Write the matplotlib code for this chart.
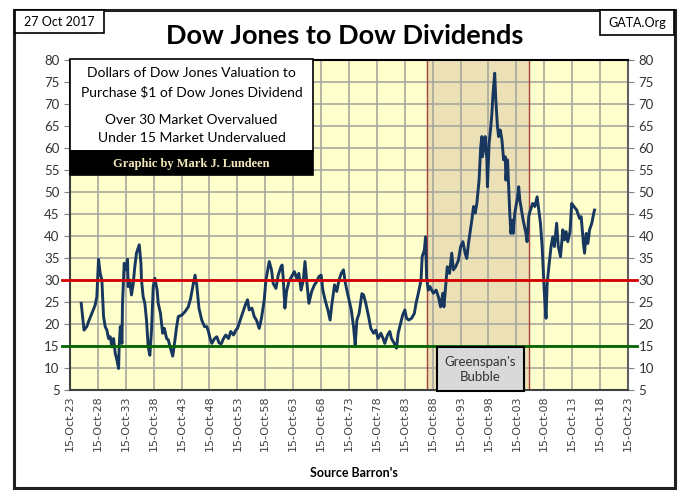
import numpy as np
from matplotlib import pyplot as plt
from matplotlib.patches import Rectangle

# year (decimal) and Dow Jones / Dow dividend ratio
years = [1925.8, 1926.3, 1926.8, 1927.1, 1927.7, 1928.3, 1928.6, 1928.9, 1929.2, 1929.5,
         1929.8, 1930.1, 1930.4, 1930.7, 1931.0, 1931.3, 1931.6, 1931.9, 1932.2, 1932.5,
         1932.6, 1932.8, 1933.1, 1933.2, 1933.5, 1933.8, 1934.1, 1934.2, 1934.5, 1934.8,
         1935.1, 1935.4, 1935.7, 1936.2, 1936.5, 1936.6, 1936.9, 1937.2, 1937.5, 1937.8,
         1938.1, 1938.4, 1938.7, 1939.0, 1939.4, 1939.6, 1940.0, 1940.4, 1940.7, 1941.1,
         1941.4, 1941.8, 1942.2, 1942.6, 1942.9, 1943.2, 1943.8, 1944.4, 1945.0, 1945.4,
         1945.9, 1946.2, 1946.5, 1946.9, 1947.4, 1947.9, 1948.3, 1948.6, 1948.9, 1949.2,
         1949.7, 1950.1, 1950.5, 1950.9, 1951.3, 1951.7, 1952.2, 1952.6, 1953.1, 1953.5,
         1953.8, 1954.3, 1954.7, 1955.2, 1955.6, 1955.9, 1956.4, 1956.8, 1957.2, 1957.7,
         1958.1, 1958.6, 1958.9, 1959.5, 1959.9, 1960.2, 1960.7, 1961.1, 1961.6, 1961.8,
         1962.0, 1962.3, 1962.6, 1963.0, 1963.5, 1964.0, 1964.4, 1964.8, 1965.2, 1965.6,
         1965.9, 1966.2, 1966.6, 1967.1, 1967.6, 1968.0, 1968.4, 1968.8, 1969.1, 1969.5,
         1970.0, 1970.4, 1970.7, 1971.2, 1971.6, 1972.0, 1972.4, 1972.8, 1973.1, 1973.4,
         1973.8, 1974.2, 1974.6, 1974.9, 1975.2, 1975.6, 1976.1, 1976.4, 1976.8, 1977.3,
         1977.7, 1978.2, 1978.6, 1979.0, 1979.5, 1979.9, 1980.2, 1980.7, 1981.1, 1981.4,
         1981.9, 1982.3, 1982.6, 1982.9, 1983.4, 1983.8, 1984.1, 1984.5, 1985.0, 1985.5,
         1985.8, 1986.2, 1986.7, 1986.9, 1987.3, 1987.5, 1987.7, 1988.0, 1988.3, 1988.9,
         1989.4, 1989.8, 1990.2, 1990.6, 1990.8, 1991.2, 1991.4, 1991.8, 1992.2, 1992.5,
         1992.9, 1993.4, 1993.8, 1994.2, 1994.6, 1994.9, 1995.2, 1995.5, 1995.8, 1996.1,
         1996.4, 1996.7, 1997.0, 1997.1, 1997.4, 1997.6, 1997.7, 1998.0, 1998.2, 1998.5,
         1998.6, 1998.9, 1999.2, 1999.4, 1999.6, 1999.9, 2000.1, 2000.4, 2000.6, 2000.9,
         2001.2, 2001.5, 2001.8, 2001.9, 2002.2, 2002.4, 2002.6, 2002.8, 2003.1, 2003.2,
         2003.5, 2004.0, 2004.2, 2004.4, 2004.7, 2005.0, 2005.5, 2005.7, 2006.0, 2006.2,
         2006.7, 2007.1, 2007.5, 2007.8, 2008.1, 2008.4, 2008.6, 2008.8, 2009.1, 2009.3,
         2009.6, 2010.0, 2010.3, 2010.6, 2011.0, 2011.3, 2011.7, 2012.1, 2012.4, 2012.7,
         2013.0, 2013.4, 2013.7, 2014.1, 2014.6, 2015.1, 2015.4, 2015.8, 2016.0, 2016.3,
         2016.6, 2016.9, 2017.3, 2017.7, 2017.8]
ratio = [24.7, 18.6, 19.4, 20.5, 22.4, 24.3, 26.2, 34.7, 31.5, 30.0,
         21.7, 19.4, 18.6, 16.7, 17.1, 14.8, 16.7, 13.3, 11.8, 9.9,
         14.8, 19.4, 15.6, 24.7, 33.8, 32.3, 34.7, 28.5, 30.0, 26.6,
         28.9, 33.0, 36.1, 38.0, 33.8, 30.0, 26.2, 24.7, 20.9, 14.8,
         12.9, 18.6, 28.5, 30.4, 27.7, 24.7, 22.4, 17.9, 19.0, 16.7,
         16.4, 14.5, 12.7, 16.4, 19.4, 21.7, 22.0, 22.8, 23.9, 25.8,
         29.2, 31.1, 28.9, 23.6, 20.9, 19.4, 19.4, 18.3, 16.7, 15.6,
         16.7, 17.1, 15.7, 15.5, 16.7, 17.5, 16.7, 18.3, 17.5, 18.6,
         19.0, 20.9, 22.4, 24.3, 25.5, 23.2, 23.6, 21.7, 20.9, 19.0,
         21.3, 25.5, 30.0, 34.2, 32.3, 29.2, 28.1, 31.1, 33.0, 33.4,
         30.4, 23.6, 27.4, 29.6, 30.8, 31.9, 30.4, 31.5, 27.7, 30.0,
         34.2, 30.0, 24.7, 27.4, 28.9, 29.6, 30.8, 31.1, 27.7, 25.5,
         23.2, 20.9, 24.3, 28.9, 27.4, 30.0, 31.5, 32.3, 29.6, 27.7,
         25.5, 23.2, 19.4, 15.2, 20.9, 22.4, 26.9, 26.6, 24.7, 21.7,
         19.0, 17.9, 18.6, 16.7, 17.9, 16.7, 15.6, 17.5, 18.3, 16.7,
         15.6, 14.5, 17.9, 19.4, 22.0, 23.2, 21.3, 20.9, 21.3, 22.4,
         24.7, 26.9, 30.0, 35.3, 36.8, 39.8, 30.4, 27.7, 28.5, 27.0,
         27.7, 26.2, 23.9, 27.0, 23.9, 30.0, 33.0, 31.5, 36.1, 32.3,
         33.0, 34.5, 37.6, 38.7, 36.1, 34.9, 38.3, 41.0, 43.6, 46.7,
         45.2, 47.4, 51.2, 52.7, 60.3, 62.6, 58.0, 60.3, 62.6, 57.3,
         51.2, 61.1, 64.8, 67.9, 72.4, 77.0, 70.9, 64.8, 62.6, 64.1,
         61.8, 57.3, 58.0, 52.7, 57.3, 51.2, 45.2, 40.6, 43.6, 40.6,
         45.2, 48.9, 51.2, 48.2, 45.9, 43.6, 40.6, 38.7, 44.4, 45.5,
         47.4, 46.7, 48.9, 45.9, 42.9, 37.6, 32.3, 27.0, 21.3, 29.2,
         33.0, 37.6, 39.8, 37.6, 42.9, 37.6, 35.3, 41.4, 39.1, 41.0,
         38.7, 41.0, 47.4, 46.7, 45.9, 44.0, 44.4, 38.3, 36.1, 40.6,
         38.3, 41.4, 42.9, 45.5, 45.9]

x_start = 1923 + 288 / 365.0     # 15 Oct 1923
tick_years = [1923 + 5 * k for k in range(21)]
tick_labels = ['15-Oct-{:02d}'.format(y % 100) for y in tick_years]
y_ticks = list(range(5, 81, 5))
bubble = (1987.8, 2006.0)

W, H = 680, 494


def fc(x, y):
    # pixel (from top left) -> figure coords
    return x / W, 1 - y / H


def box(fig, x0, y0, x1, y1, face, edge='black', lw=1.2, z=5):
    r = Rectangle(fc(x0, y1), (x1 - x0) / W, (y1 - y0) / H, transform=fig.transFigure,
                  facecolor=face, edgecolor=edge, linewidth=lw, zorder=z)
    fig.add_artist(r)


fig = plt.figure(figsize=(6.8, 4.94), dpi=100)
ax = fig.add_axes([70 / W, 1 - 390 / H, 558 / W, 330 / H])
ax.set_facecolor('#ffffcc')

ax.axvspan(bubble[0], bubble[1], color='#ece0b6', zorder=0)
for b in bubble:
    ax.axvline(b, color='#a5443a', lw=1, zorder=1)

ax.plot(years, ratio, color='#17375e', lw=2.1, zorder=3)
ax.axhline(30, xmin=-0.015, xmax=1.016, color='#d40000', lw=2, clip_on=False, zorder=4)
ax.axhline(15, xmin=-0.015, xmax=1.016, color='#006400', lw=2, clip_on=False, zorder=4)

ax.set_xlim(x_start, x_start + 100)
ax.set_ylim(5, 80)
ax.set_xticks([x_start + 5 * k for k in range(21)])
ax.set_xticklabels(tick_labels, rotation=90, fontsize=8, color='#404040', family='DejaVu Sans')
ax.set_yticks(y_ticks)
ax.tick_params(axis='y', which='both', left=True, right=True, labelleft=True, labelright=True,
               direction='out', length=4, color='#808080', labelsize=9.5, labelcolor='#333333')
ax.tick_params(axis='x', length=0, pad=4)
for lab in ax.get_yticklabels():
    lab.set_family('Lato')
ax.grid(True, color='#a8a8a0', lw=1.2, zorder=0.5)
ax.set_axisbelow(True)
for s in ['left', 'bottom']:
    ax.spines[s].set_color('#404040')
    ax.spines[s].set_linewidth(1.5)
ax.spines['top'].set_color('black')
ax.spines['top'].set_linewidth(1.5)
ax.spines['right'].set_color('#606060')
ax.spines['right'].set_linewidth(1.5)

# outer frame
box(fig, 14, 10, 675, 488, 'none', edge='#202020', lw=2.2, z=1)

# title and corner boxes
fig.text(*fc(345, 36), 'Dow Jones to Dow Dividends', ha='center', va='center',
         fontsize=19.5, fontweight='bold', family='Lato')
box(fig, 15, 10, 104, 33, 'white')
fig.text(*fc(59.5, 22), '27 Oct 2017', ha='center', va='center', fontsize=9, family='Lato', zorder=6)
box(fig, 600, 10, 674, 35, 'white')
fig.text(*fc(637, 23), 'GATA.Org', ha='center', va='center', fontsize=9, family='Lato', zorder=6)

# description box
box(fig, 70, 59, 313, 151, 'white')
box(fig, 70, 151, 313, 175, 'black')
for yy, t in [(73, 'Dollars of Dow Jones Valuation to'), (92, 'Purchase $1 of Dow Jones Dividend'),
              (120, 'Over 30 Market Overvalued'), (138, 'Under 15 Market Undervalued')]:
    fig.text(*fc(191.5, yy), t, ha='center', va='center', fontsize=10, family='Lato', zorder=6)
fig.text(*fc(191.5, 164), 'Graphic by Mark J. Lundeen', ha='center', va='center', fontsize=9,
         fontweight='bold', family='Liberation Serif', color='#f3e7b9', zorder=6)

# greenspan box
box(fig, 437, 347, 524, 391, '#d9d9d9', lw=1.5)
fig.text(*fc(480.5, 369), "Greenspan's\nBubble", ha='center', va='center', fontsize=9.5,
         family='Lato', color='#333333', linespacing=1.3, zorder=6)

fig.text(*fc(354, 473), "Source Barron's", ha='center', va='center', fontsize=9,
         fontweight='bold', family='Lato')

plt.savefig('out.png', dpi=100)
